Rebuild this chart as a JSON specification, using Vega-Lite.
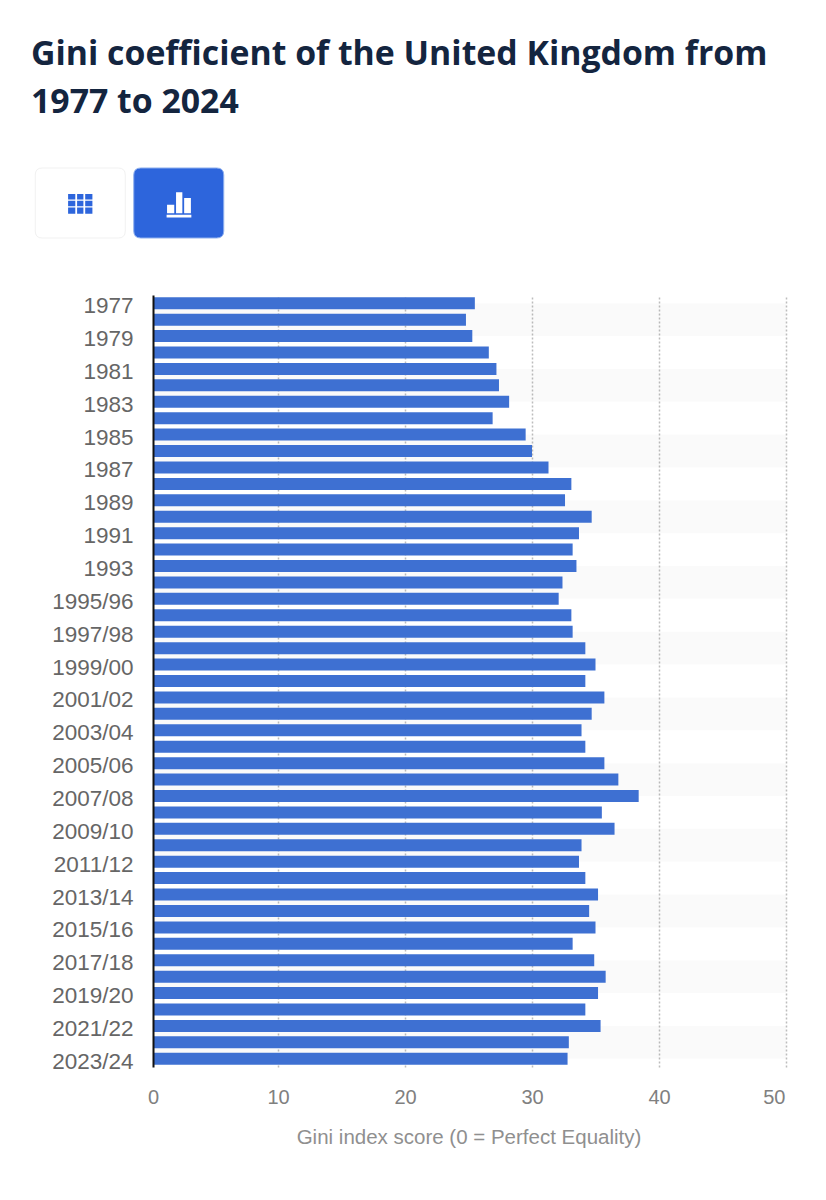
{
"$schema":"https://vega.github.io/schema/vega-lite/v6.json",
"background":"#ffffff",
"padding":{"left":31,"top":38,"right":10,"bottom":10},
"title":{"text":["Gini coefficient of the United Kingdom from","1977 to 2024"],"anchor":"start","frame":"bounds","font":"Open Sans","fontSize":33.8,"fontWeight":"bold","color":"#14253f","lineHeight":48,"dx":0,"offset":46},
"config":{"view":{"stroke":null}},
"spacing":53,
"vconcat":[
{"width":197,"height":70,
 "data":{"values":[{"button":"table"},{"button":"chart"}]},
 "resolve":{"scale":{"shape":"independent","color":"independent"}},
 "layer":[
  {"mark":{"type":"point","filled":true,"size":8100,"opacity":1,"strokeWidth":1},
   "encoding":{
    "x":{"field":"button","type":"nominal","sort":["table","chart"],"axis":null,"scale":{"type":"band","paddingInner":0,"paddingOuter":0,"range":[-122,75]}},
    "shape":{"field":"button","type":"nominal","legend":null,"scale":{"domain":["table","chart"],"range":["M-0.844 -0.778H0.844Q1 -0.778 1 -0.622V0.622Q1 0.778 0.844 0.778H-0.844Q-1 0.778 -1 0.622V-0.622Q-1 -0.778 -0.844 -0.778Z","M-0.844 -0.778H0.844Q1 -0.778 1 -0.622V0.622Q1 0.778 0.844 0.778H-0.844Q-1 0.778 -1 0.622V-0.622Q-1 -0.778 -0.844 -0.778Z"]}},
    "color":{"field":"button","type":"nominal","legend":null,"scale":{"domain":["table","chart"],"range":["#ffffff","#2d65dc"]}},
    "stroke":{"field":"button","type":"nominal","legend":null,"scale":{"domain":["table","chart"],"range":["#f1f1f1","#8fb0ee"]}}
   }},
  {"mark":{"type":"point","filled":true,"size":8100,"opacity":1,"strokeWidth":0},
   "encoding":{
    "x":{"field":"button","type":"nominal","sort":["table","chart"],"axis":null,"scale":{"type":"band","paddingInner":0,"paddingOuter":0,"range":[-122,75]}},
    "shape":{"field":"button","type":"nominal","legend":null,"scale":{"domain":["table","chart"],"range":["M-0.27 -0.2H-0.11V-0.08H-0.27ZM-0.07 -0.2H0.07V-0.08H-0.07ZM0.11 -0.2H0.27V-0.08H0.11ZM-0.27 -0.05H-0.11V0.07H-0.27ZM-0.07 -0.05H0.07V0.07H-0.07ZM0.11 -0.05H0.27V0.07H0.11ZM-0.27 0.1H-0.11V0.24H-0.27ZM-0.07 0.1H0.07V0.24H-0.07ZM0.11 0.1H0.27V0.24H0.11Z","M-0.26 0.04H-0.1V0.23H-0.26ZM-0.06 -0.24H0.08V0.23H-0.06ZM0.12 -0.11H0.27V0.23H0.12ZM-0.27 0.26H0.28V0.32H-0.27Z"]}},
    "color":{"field":"button","type":"nominal","legend":null,"scale":{"domain":["table","chart"],"range":["#2d65dc","#ffffff"]}}
   }}
 ]},
{"width":633,"height":772,
 "resolve":{"scale":{"y":"independent"}},
 "layer":[
  {"data":{"values":[{"from":0.5,"to":2.5},{"from":4.5,"to":6.5},{"from":8.5,"to":10.5},{"from":12.5,"to":14.5},{"from":16.5,"to":18.5},{"from":20.5,"to":22.5},{"from":24.5,"to":26.5},{"from":28.5,"to":30.5},{"from":32.5,"to":34.5},{"from":36.5,"to":38.5},{"from":40.5,"to":42.5},{"from":44.5,"to":46.5}]},
   "mark":{"type":"rect","fill":"#000000","fillOpacity":0.02,"clip":true},
   "encoding":{
    "x":{"datum":0,"type":"quantitative","scale":{"domain":[0,50],"nice":false,"range":[-2,633]}},
    "x2":{"datum":50},
    "y":{"field":"from","type":"quantitative","axis":null,"scale":{"domain":[0,47],"reverse":true,"nice":false,"zero":false}},
    "y2":{"field":"to"}
   }},
  {"data":{"values":[
{"period":"1977","gini":25.5},{"period":"1978","gini":24.8},{"period":"1979","gini":25.3},{"period":"1980","gini":26.6},{"period":"1981","gini":27.2},{"period":"1982","gini":27.4},{"period":"1983","gini":28.2},{"period":"1984","gini":26.9},{"period":"1985","gini":29.5},{"period":"1986","gini":30.0},{"period":"1987","gini":31.3},{"period":"1988","gini":33.1},{"period":"1989","gini":32.6},{"period":"1990","gini":34.7},{"period":"1991","gini":33.7},{"period":"1992","gini":33.2},{"period":"1993","gini":33.5},{"period":"1994/95","gini":32.4},{"period":"1995/96","gini":32.1},{"period":"1996/97","gini":33.1},{"period":"1997/98","gini":33.2},{"period":"1998/99","gini":34.2},{"period":"1999/00","gini":35.0},{"period":"2000/01","gini":34.2},{"period":"2001/02","gini":35.7},{"period":"2002/03","gini":34.7},{"period":"2003/04","gini":33.9},{"period":"2004/05","gini":34.2},{"period":"2005/06","gini":35.7},{"period":"2006/07","gini":36.8},{"period":"2007/08","gini":38.4},{"period":"2008/09","gini":35.5},{"period":"2009/10","gini":36.5},{"period":"2010/11","gini":33.9},{"period":"2011/12","gini":33.7},{"period":"2012/13","gini":34.2},{"period":"2013/14","gini":35.2},{"period":"2014/15","gini":34.5},{"period":"2015/16","gini":35.0},{"period":"2016/17","gini":33.2},{"period":"2017/18","gini":34.9},{"period":"2018/19","gini":35.8},{"period":"2019/20","gini":35.2},{"period":"2020/21","gini":34.2},{"period":"2021/22","gini":35.4},{"period":"2022/23","gini":32.9},{"period":"2023/24","gini":32.8}
   ]},
   "mark":{"type":"bar","color":"#3e70d2","size":12,"clip":true},
   "encoding":{
    "x":{"field":"gini","type":"quantitative","title":"Gini index score (0 = Perfect Equality)",
     "scale":{"domain":[0,50],"nice":false,"range":[-2,633]},
     "axis":{"values":[0,10,20,30,40,50],"grid":true,"gridColor":"#bdbdbd","gridDash":[2,2],"gridWidth":1.5,"gridOpacity":{"condition":{"test":"datum.value==0","value":0},"value":1},"domain":false,"ticks":false,"labelFont":"Liberation Sans","labelFontSize":20,"labelColor":"#808080","labelPadding":20,"labelAlign":{"condition":{"test":"datum.value==50","value":"right"},"value":"center"},"labelOffset":{"condition":[{"test":"datum.value==50","value":-1},{"test":"datum.value==0","value":2}],"value":0},"labelBound":false,"labelFlush":false,"titleFont":"Liberation Sans","titleFontSize":20.5,"titleFontWeight":"normal","titleColor":"#8f8f8f","titlePadding":20}},
    "y":{"field":"period","type":"nominal","sort":null,"title":null,
     "scale":{"paddingInner":0.27,"paddingOuter":0.135},
     "axis":{"values":["1977","1979","1981","1983","1985","1987","1989","1991","1993","1995/96","1997/98","1999/00","2001/02","2003/04","2005/06","2007/08","2009/10","2011/12","2013/14","2015/16","2017/18","2019/20","2021/22","2023/24"],"domain":true,"domainColor":"#111111","domainWidth":2,"ticks":false,"grid":false,"zindex":1,"labelFont":"Liberation Sans","labelFontSize":22.5,"labelColor":"#666666","labelPadding":20,"labelOffset":3,"labelOverlap":false,"minExtent":122}}
   }}
 ]}
]
}
